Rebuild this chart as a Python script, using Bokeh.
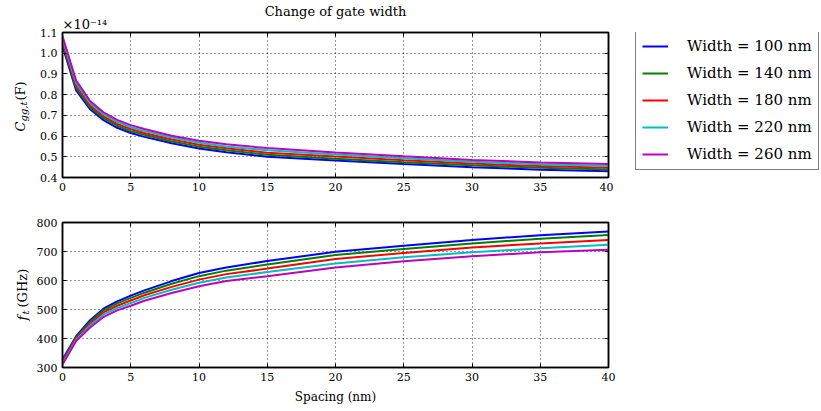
import math
from bokeh.plotting import figure
from bokeh.models import (ColumnDataSource, Legend, LegendItem, Range1d, Title,
                          NumeralTickFormatter, LinearAxis, FixedTicker)
from bokeh.core.properties import value
from bokeh.layouts import column, row
from bokeh.embed import file_html
from bokeh.resources import INLINE

FONT = "DejaVu Serif"

spacing = [0, 1, 2, 3, 4, 5, 6, 8, 10, 12, 15, 20, 25, 30, 35, 40]
labels = ["Width = 100 nm", "Width = 140 nm", "Width = 180 nm",
          "Width = 220 nm", "Width = 260 nm"]
colors = ["#0000ff", "#008000", "#ff0000", "#00bfbf", "#bf00bf"]

# C_gg,t in units of 1e-14 F
cgg_100 = [1.035, 0.820, 0.731, 0.677, 0.640, 0.615, 0.596, 0.565, 0.540, 0.522, 0.500, 0.482, 0.465, 0.450, 0.438, 0.430]
cgg_140 = [1.047, 0.832, 0.741, 0.687, 0.650, 0.624, 0.606, 0.574, 0.549, 0.531, 0.510, 0.491, 0.474, 0.459, 0.447, 0.439]
cgg_180 = [1.058, 0.844, 0.751, 0.696, 0.659, 0.634, 0.615, 0.583, 0.558, 0.541, 0.520, 0.501, 0.483, 0.467, 0.455, 0.447]
cgg_220 = [1.070, 0.856, 0.761, 0.706, 0.669, 0.643, 0.625, 0.593, 0.568, 0.550, 0.531, 0.511, 0.493, 0.476, 0.464, 0.456]
cgg_260 = [1.082, 0.868, 0.771, 0.715, 0.678, 0.653, 0.634, 0.602, 0.577, 0.560, 0.542, 0.521, 0.502, 0.485, 0.473, 0.465]

# f_t in GHz
ft_100 = [328, 408, 462, 503, 528, 548, 566, 598, 626, 645, 667, 699, 720, 740, 756, 769]
ft_140 = [323, 404, 456, 497, 521, 540, 558, 589, 615, 634, 655, 688, 709, 728, 744, 757]
ft_180 = [318, 400, 450, 490, 513, 531, 549, 578, 603, 622, 641, 674, 695, 714, 728, 740]
ft_220 = [314, 395, 444, 482, 505, 522, 540, 568, 592, 610, 629, 659, 680, 697, 711, 723]
ft_260 = [310, 391, 437, 474, 497, 513, 530, 557, 580, 598, 615, 645, 666, 684, 697, 706]

x_ticks = [0, 5, 10, 15, 20, 25, 30, 35, 40]
cgg_ticks = [0.4, 0.5, 0.6, 0.7, 0.8, 0.9, 1.0, 1.1]
ft_ticks = [300, 400, 500, 600, 700, 800]

TOP_T, TOP_B = 32, 25
BOT_T, BOT_B = 20, 44
FRAME_W, FRAME_H = 546, 145
LAB_W = 30
RIGHT_B = 5
LEG_W = 821 - (LAB_W + (62 - LAB_W) + FRAME_W + RIGHT_B)


def tune_axis(ax, hidden=False):
    ax.major_tick_in = 4
    ax.major_tick_out = 0
    ax.minor_tick_line_color = None
    ax.axis_line_color = "black"
    ax.axis_line_width = 1.5
    ax.major_tick_line_color = "black"
    ax.major_tick_line_width = 1
    if hidden:
        ax.major_label_text_font_size = "0px"
        ax.major_label_text_alpha = 0
        ax.major_label_standoff = 0
    else:
        ax.major_label_text_font = FONT
        ax.major_label_text_font_size = "11px"
        ax.major_label_text_color = "black"
        ax.major_label_standoff = 5


def build(p, yticks):
    xb, yl = p.below[0], p.left[0]
    xb.ticker = FixedTicker(ticks=x_ticks)
    yl.ticker = FixedTicker(ticks=yticks)
    tune_axis(xb)
    tune_axis(yl)
    top = LinearAxis(ticker=FixedTicker(ticks=x_ticks))
    right = LinearAxis(ticker=FixedTicker(ticks=yticks))
    tune_axis(top, hidden=True)
    tune_axis(right, hidden=True)
    p.add_layout(top, "above")
    p.add_layout(right, "right")
    p.grid.grid_line_color = "black"
    p.grid.grid_line_alpha = 0.8
    p.grid.grid_line_dash = "1 3"
    p.grid.grid_line_width = 1
    p.outline_line_color = "black"
    p.outline_line_width = 1.5
    p.outline_line_alpha = 1.0
    p.background_fill_color = "white"
    p.border_fill_color = "white"
    return xb, yl


def blank_fig(width, y_range, top, bottom, x_range=None):
    f = figure(frame_width=width, frame_height=FRAME_H,
               x_range=x_range if x_range is not None else Range1d(0, width),
               y_range=y_range,
               output_backend="svg", toolbar_location=None,
               min_border_left=0, min_border_right=0,
               min_border_top=top, min_border_bottom=bottom)
    f.axis.visible = False
    f.grid.visible = False
    f.outline_line_color = None
    f.background_fill_color = "white"
    f.border_fill_color = "white"
    return f


ang = math.pi / 2
keys = ["w100", "w140", "w180", "w220", "w260"]

# ---------------- top plot ----------------
p1 = figure(frame_width=FRAME_W, frame_height=FRAME_H,
            x_range=Range1d(0, 40), y_range=Range1d(0.4, 1.1),
            output_backend="svg", toolbar_location=None,
            min_border_left=62 - LAB_W, min_border_right=RIGHT_B,
            min_border_top=TOP_T, min_border_bottom=TOP_B, title=None)
xb1, yl1 = build(p1, cgg_ticks)
yl1.formatter = NumeralTickFormatter(format="0.0")

p1.add_layout(Title(text="×10⁻¹⁴", align="left", text_font=FONT,
                    text_font_size="13px", text_font_style="normal",
                    text_color="black", standoff=1), "above")
p1.add_layout(Title(text="Change of gate width", align="center", text_font=FONT,
                    text_font_size="13px", text_font_style="normal",
                    text_color="black", standoff=-9), "above")

src1 = ColumnDataSource(dict(x=spacing, w100=cgg_100, w140=cgg_140, w180=cgg_180,
                             w220=cgg_220, w260=cgg_260))
for k, c in zip(keys, colors):
    p1.line("x", k, source=src1, line_color=c, line_width=2)

# legend lives in its own panel figure to the right of the top plot
legfig = blank_fig(LEG_W, Range1d(0.4, 1.1), TOP_T, TOP_B, x_range=Range1d(-2, -1))
items = []
for k, c, lab in zip(keys, colors, labels):
    r = legfig.line("x", k, source=src1, line_color=c, line_width=2)
    items.append(LegendItem(label=lab, renderers=[r]))
legend = Legend(items=items, location=(635 - (821 - LEG_W), FRAME_H - 138))
legend.border_line_color = "black"
legend.border_line_width = 1.5
legend.background_fill_color = "white"
legend.background_fill_alpha = 1.0
legend.label_text_font = FONT
legend.label_text_font_size = "15px"
legend.label_text_color = "black"
legend.glyph_width = 26
legend.glyph_height = 18
legend.label_height = 18
legend.label_standoff = 19
legend.spacing = 9
legend.padding = 6
legend.margin = 0
legfig.add_layout(legend)

lab1 = blank_fig(LAB_W, p1.y_range, TOP_T, TOP_B)
y0 = [p1.y_range.start]
lab1.text(x=[20], y=y0, text=["C"], angle=ang, y_offset=-46,
          text_font=value(FONT), text_font_size="13px", text_font_style="italic",
          text_baseline="alphabetic", text_color="black")
lab1.text(x=[20], y=y0, text=["gg,t"], angle=ang, y_offset=-56, x_offset=3,
          text_font=value(FONT), text_font_size="10px", text_font_style="italic",
          text_baseline="alphabetic", text_color="black")
lab1.text(x=[20], y=y0, text=["(F)"], angle=ang, y_offset=-77,
          text_font=value(FONT), text_font_size="13px",
          text_baseline="alphabetic", text_color="black")

# ---------------- bottom plot ----------------
p2 = figure(frame_width=FRAME_W, frame_height=FRAME_H,
            x_range=Range1d(0, 40), y_range=Range1d(300, 800),
            output_backend="svg", toolbar_location=None,
            min_border_left=62 - LAB_W, min_border_right=10,
            min_border_top=BOT_T, min_border_bottom=BOT_B)
xb2, yl2 = build(p2, ft_ticks)
xb2.axis_label = "Spacing (nm)"
xb2.axis_label_text_font = FONT
xb2.axis_label_text_font_size = "12px"
xb2.axis_label_text_font_style = "normal"
xb2.axis_label_text_color = "black"
xb2.axis_label_standoff = 6

src2 = ColumnDataSource(dict(x=spacing, w100=ft_100, w140=ft_140, w180=ft_180,
                             w220=ft_220, w260=ft_260))
for k, c in zip(keys, colors):
    p2.line("x", k, source=src2, line_color=c, line_width=2)

lab2 = blank_fig(LAB_W, p2.y_range, BOT_T, BOT_B)
y0b = [p2.y_range.start]
lab2.text(x=[22], y=y0b, text=["f"], angle=ang, y_offset=-47,
          text_font=value(FONT), text_font_size="13px", text_font_style="italic",
          text_baseline="alphabetic", text_color="black")
lab2.text(x=[22], y=y0b, text=["t"], angle=ang, y_offset=-53, x_offset=3,
          text_font=value(FONT), text_font_size="10px", text_font_style="italic",
          text_baseline="alphabetic", text_color="black")
lab2.text(x=[22], y=y0b, text=[" (GHz)"], angle=ang, y_offset=-60,
          text_font=value(FONT), text_font_size="13px",
          text_baseline="alphabetic", text_color="black")

layout = column(row(lab1, p1, legfig, spacing=0),
                row(lab2, p2, spacing=0), spacing=0)
open("out.html", "w").write(file_html(layout, INLINE))
